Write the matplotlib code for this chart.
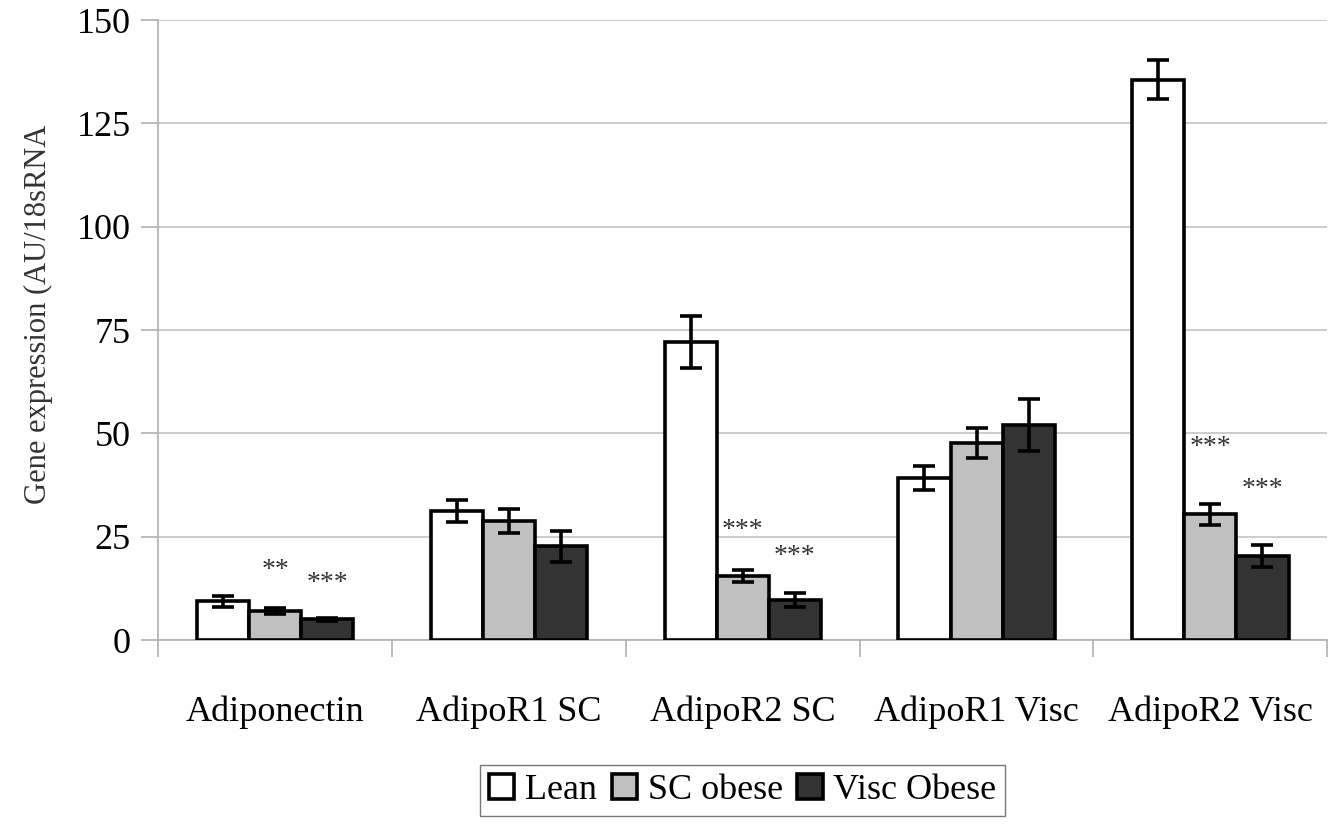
import matplotlib

matplotlib.use("Agg")
import matplotlib.pyplot as plt
import numpy as np

categories = ["Adiponectin", "AdipoR1 SC", "AdipoR2 SC", "AdipoR1 Visc", "AdipoR2 Visc"]
series_names = ["Lean", "SC obese", "Visc Obese"]
lean = [9.4, 31.2, 72.2, 39.2, 135.6]
lean_err = [1.3, 2.7, 6.3, 3.0, 4.7]
sc_obese = [7.0, 28.8, 15.5, 47.7, 30.4]
sc_obese_err = [0.7, 2.8, 1.5, 3.6, 2.6]
visc_obese = [5.0, 22.7, 9.7, 52.0, 20.3]
visc_obese_err = [0.3, 3.8, 1.7, 6.3, 2.6]

# significance marks: (category index, series index, label, y position)
stars = [
    (0, 1, "**", 16.9),
    (0, 2, "***", 13.7),
    (2, 1, "***", 26.6),
    (2, 2, "***", 20.3),
    (4, 1, "***", 46.5),
    (4, 2, "***", 36.5),
]

colors = ["#ffffff", "#c0c0c0", "#333333"]

plt.rcParams["font.family"] = ["Liberation Serif", "DejaVu Serif"]

fig = plt.figure(figsize=(13.42, 8.31), dpi=100)
ax = fig.add_axes([0.118, 0.2298, 0.871, 0.746])

x = np.arange(len(categories))
width = 0.223
values = [lean, sc_obese, visc_obese]
errors = [lean_err, sc_obese_err, visc_obese_err]
for idx, (vals, errs) in enumerate(zip(values, errors)):
    offset = (idx - 1) * width
    ax.bar(x + offset, vals, width=width, color=colors[idx], edgecolor="black",
           linewidth=2.6, label=series_names[idx], zorder=3)
    ax.errorbar(x + offset, vals, yerr=errs, fmt="none", ecolor="black",
                elinewidth=2.6, capsize=8, capthick=2.6, zorder=4)

for cat, ser, label, ypos in stars:
    ax.text(x[cat] + (ser - 1) * width, ypos, label, ha="center", va="center",
            fontsize=20, color="#333333", zorder=5)

ax.set_xlim(-0.5, len(categories) - 0.5)
ax.set_ylim(0, 150)
ax.set_yticks(np.arange(0, 151, 25))
ax.yaxis.grid(True, color="#c8c8c8", linewidth=1.3, zorder=0)
ax.set_axisbelow(True)

ax.set_xticks(x)
ax.set_xticklabels(categories, fontsize=26)
ax.set_xticks(np.arange(-0.5, len(categories), 1), minor=True)
ax.tick_params(axis="x", which="major", length=0, pad=40)
ax.tick_params(axis="x", which="minor", length=12, color="#b0b0b0", width=1.2)
ax.tick_params(axis="y", length=12, color="#b0b0b0", width=1.2, labelsize=26, pad=8)

for side in ["top", "right"]:
    ax.spines[side].set_visible(False)
ax.spines["left"].set_color("#b0b0b0")
ax.spines["bottom"].set_color("#b0b0b0")
ax.spines["left"].set_linewidth(1.2)
ax.spines["bottom"].set_linewidth(1.2)

ax.set_ylabel("Gene expression (AU/18sRNA", fontsize=22, color="#333333")
ax.yaxis.set_label_coords(-0.09, 0.525)

ax.legend(loc="upper center", bbox_to_anchor=(0.5, -0.172), ncol=3, fontsize=26,
          frameon=True, fancybox=False, edgecolor="#555555", handlelength=0.7,
          handleheight=0.7, handletextpad=0.3, columnspacing=0.4, borderpad=0.25)

fig.savefig("out.png", dpi=100)
